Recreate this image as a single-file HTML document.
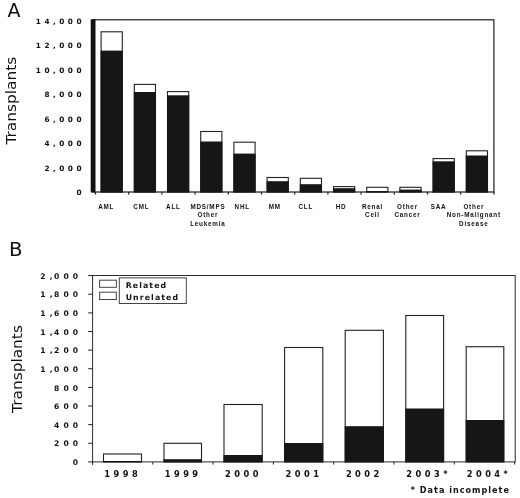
<!DOCTYPE html>
<html><head><meta charset="utf-8"><title>Transplants</title>
<style>
html,body{margin:0;padding:0;background:#fff;}
svg{display:block}
text{font-family:"DejaVu Sans","Liberation Sans",sans-serif;fill:#111}
.tk{font-weight:bold;font-size:7.3px;letter-spacing:3.5px;text-anchor:end}
.tb{font-weight:bold;font-size:7.6px;letter-spacing:4.1px;text-anchor:end}
.ca{font-family:"Liberation Sans",sans-serif;font-weight:bold;font-size:7.8px;letter-spacing:.99px;text-anchor:middle}
.cb{font-weight:bold;font-size:8.3px;letter-spacing:3.45px}
.lg{font-weight:bold;font-size:8.5px;letter-spacing:.7px}
.big{font-size:15px}
</style></head><body>
<svg width="520" height="498" viewBox="0 0 520 498">
<rect width="520" height="498" fill="#fff"/>

<text class="big" x="7.6" y="16.5" style="font-size:19px">A</text>
<text class="big" transform="translate(16.2,144.6) rotate(-90) scale(1,0.95)" style="font-size:15.4px">Transplants</text>
<rect x="93" y="19.8" width="400.9" height="172.2" fill="none" stroke="#1c1c1c" stroke-width="1.2"/>
<rect x="90.7" y="19.3" width="4.8" height="173.2" fill="#111"/>
<text class="tk" x="85" y="23.8">14,000</text>
<text class="tk" x="85" y="48.2">12,000</text>
<text class="tk" x="85" y="72.7">10,000</text>
<text class="tk" x="85" y="97.1">8,000</text>
<text class="tk" x="85" y="121.6">6,000</text>
<text class="tk" x="85" y="146.1">4,000</text>
<text class="tk" x="85" y="170.5">2,000</text>
<text class="tk" x="85" y="195.0">0</text>
<rect x="94.9" y="192" width="1.2" height="2.6" fill="#222"/>
<rect x="128.1" y="192" width="1.2" height="2.6" fill="#222"/>
<rect x="161.3" y="192" width="1.2" height="2.6" fill="#222"/>
<rect x="194.5" y="192" width="1.2" height="2.6" fill="#222"/>
<rect x="227.7" y="192" width="1.2" height="2.6" fill="#222"/>
<rect x="260.9" y="192" width="1.2" height="2.6" fill="#222"/>
<rect x="294.1" y="192" width="1.2" height="2.6" fill="#222"/>
<rect x="327.3" y="192" width="1.2" height="2.6" fill="#222"/>
<rect x="360.5" y="192" width="1.2" height="2.6" fill="#222"/>
<rect x="393.7" y="192" width="1.2" height="2.6" fill="#222"/>
<rect x="426.9" y="192" width="1.2" height="2.6" fill="#222"/>
<rect x="460.1" y="192" width="1.2" height="2.6" fill="#222"/>
<rect x="493.3" y="192" width="1.2" height="2.6" fill="#222"/>
<rect x="101.1" y="31.8" width="21.2" height="160.2" fill="#fff" stroke="#222" stroke-width="1.1"/>
<rect x="100.6" y="50.6" width="22.2" height="141.7" fill="#161616"/>
<rect x="134.3" y="84.4" width="21.2" height="107.6" fill="#fff" stroke="#222" stroke-width="1.1"/>
<rect x="133.8" y="92" width="22.2" height="100.3" fill="#161616"/>
<rect x="167.5" y="91.6" width="21.2" height="100.4" fill="#fff" stroke="#222" stroke-width="1.1"/>
<rect x="167.0" y="95.3" width="22.2" height="97.0" fill="#161616"/>
<rect x="200.7" y="131.5" width="21.2" height="60.5" fill="#fff" stroke="#222" stroke-width="1.1"/>
<rect x="200.2" y="141.5" width="22.2" height="50.8" fill="#161616"/>
<rect x="233.9" y="142.2" width="21.2" height="49.8" fill="#fff" stroke="#222" stroke-width="1.1"/>
<rect x="233.4" y="153.6" width="22.2" height="38.7" fill="#161616"/>
<rect x="267.1" y="177.5" width="21.2" height="14.5" fill="#fff" stroke="#222" stroke-width="1.1"/>
<rect x="266.6" y="181.2" width="22.2" height="11.1" fill="#161616"/>
<rect x="300.3" y="178.3" width="21.2" height="13.7" fill="#fff" stroke="#222" stroke-width="1.1"/>
<rect x="299.8" y="184.2" width="22.2" height="8.1" fill="#161616"/>
<rect x="333.5" y="186.6" width="21.2" height="5.4" fill="#fff" stroke="#222" stroke-width="1.1"/>
<rect x="333.0" y="188.2" width="22.2" height="4.1" fill="#161616"/>
<rect x="366.7" y="187.3" width="21.2" height="4.7" fill="#fff" stroke="#222" stroke-width="1.1"/>
<rect x="366.2" y="191" width="22.2" height="1.3" fill="#161616"/>
<rect x="399.9" y="187.3" width="21.2" height="4.7" fill="#fff" stroke="#222" stroke-width="1.1"/>
<rect x="399.4" y="189.6" width="22.2" height="2.7" fill="#161616"/>
<rect x="433.1" y="158.6" width="21.2" height="33.4" fill="#fff" stroke="#222" stroke-width="1.1"/>
<rect x="432.6" y="161.3" width="22.2" height="31.0" fill="#161616"/>
<rect x="466.3" y="150.8" width="21.2" height="41.2" fill="#fff" stroke="#222" stroke-width="1.1"/>
<rect x="465.8" y="155.5" width="22.2" height="36.8" fill="#161616"/>
<text class="ca" transform="translate(106.2,208.5) scale(.81,1)">AML</text>
<text class="ca" transform="translate(141.3,208.5) scale(.81,1)">CML</text>
<text class="ca" transform="translate(173.4,208.5) scale(.81,1)">ALL</text>
<text class="ca" transform="translate(207.9,208.5) scale(.81,1)">MDS/MPS</text>
<text class="ca" transform="translate(207.9,217.1) scale(.81,1)">Other</text>
<text class="ca" transform="translate(207.9,225.6) scale(.81,1)">Leukemia</text>
<text class="ca" transform="translate(242.3,208.5) scale(.81,1)">NHL</text>
<text class="ca" transform="translate(274.8,208.5) scale(.81,1)">MM</text>
<text class="ca" transform="translate(305.8,208.5) scale(.81,1)">CLL</text>
<text class="ca" transform="translate(341.0,208.5) scale(.81,1)">HD</text>
<text class="ca" transform="translate(372.5,208.5) scale(.81,1)">Renal</text>
<text class="ca" transform="translate(372.5,217.1) scale(.81,1)">Cell</text>
<text class="ca" transform="translate(407.5,208.5) scale(.81,1)">Other</text>
<text class="ca" transform="translate(407.5,217.1) scale(.81,1)">Cancer</text>
<text class="ca" transform="translate(438.5,208.5) scale(.81,1)">SAA</text>
<text class="ca" transform="translate(473.8,208.5) scale(.81,1)">Other</text>
<text class="ca" transform="translate(473.8,217.1) scale(.81,1)">Non-Malignant</text>
<text class="ca" transform="translate(473.8,225.6) scale(.81,1)">Disease</text>
<text class="big" x="8.9" y="255.9" style="font-size:19.6px">B</text>
<text class="big" transform="translate(22,413) rotate(-90) scale(1,0.97)" style="font-size:15.4px">Transplants</text>
<rect x="92.6" y="275.5" width="422.6" height="186.4" fill="none" stroke="#2a2a2a" stroke-width="1"/>
<rect x="92.1" y="461.5" width="1" height="3.2" fill="#222"/>
<text class="tb" x="82.2" y="278.7">2,<tspan dx="-2.6">000</tspan></text>
<rect x="88.2" y="275.1" width="4.4" height="1" fill="#222"/>
<text class="tb" x="82.2" y="297.3">1,<tspan dx="-2.6">800</tspan></text>
<rect x="88.2" y="293.7" width="4.4" height="1" fill="#222"/>
<text class="tb" x="82.2" y="316.0">1,<tspan dx="-2.6">600</tspan></text>
<rect x="88.2" y="312.4" width="4.4" height="1" fill="#222"/>
<text class="tb" x="82.2" y="334.6">1,<tspan dx="-2.6">400</tspan></text>
<rect x="88.2" y="331.0" width="4.4" height="1" fill="#222"/>
<text class="tb" x="82.2" y="353.2">1,<tspan dx="-2.6">200</tspan></text>
<rect x="88.2" y="349.6" width="4.4" height="1" fill="#222"/>
<text class="tb" x="82.2" y="371.9">1,<tspan dx="-2.6">000</tspan></text>
<rect x="88.2" y="368.2" width="4.4" height="1" fill="#222"/>
<text class="tb" x="82.2" y="390.5">800</text>
<rect x="88.2" y="386.9" width="4.4" height="1" fill="#222"/>
<text class="tb" x="82.2" y="409.1">600</text>
<rect x="88.2" y="405.5" width="4.4" height="1" fill="#222"/>
<text class="tb" x="82.2" y="427.7">400</text>
<rect x="88.2" y="424.1" width="4.4" height="1" fill="#222"/>
<text class="tb" x="82.2" y="446.4">200</text>
<rect x="88.2" y="442.8" width="4.4" height="1" fill="#222"/>
<text class="tb" x="82.2" y="465.0">0</text>
<rect x="88.2" y="461.4" width="4.4" height="1" fill="#222"/>
<rect x="103.5" y="454" width="38.0" height="7.9" fill="#fff" stroke="#222" stroke-width="1.1"/>
<rect x="103.0" y="461" width="39.0" height="1.2" fill="#161616"/>
<rect x="164" y="443.3" width="37.5" height="18.6" fill="#fff" stroke="#222" stroke-width="1.1"/>
<rect x="163.5" y="459.2" width="38.5" height="3.0" fill="#161616"/>
<rect x="224" y="404.5" width="38.2" height="57.4" fill="#fff" stroke="#222" stroke-width="1.1"/>
<rect x="223.5" y="455" width="39.2" height="7.2" fill="#161616"/>
<rect x="284.6" y="347.5" width="38.2" height="114.4" fill="#fff" stroke="#222" stroke-width="1.1"/>
<rect x="284.1" y="443" width="39.2" height="19.2" fill="#161616"/>
<rect x="345.2" y="330.3" width="38.2" height="131.6" fill="#fff" stroke="#222" stroke-width="1.1"/>
<rect x="344.7" y="426.2" width="39.2" height="36.0" fill="#161616"/>
<rect x="405.8" y="315.5" width="37.8" height="146.4" fill="#fff" stroke="#222" stroke-width="1.1"/>
<rect x="405.3" y="408.5" width="38.8" height="53.7" fill="#161616"/>
<rect x="466.2" y="346.7" width="37.6" height="115.2" fill="#fff" stroke="#222" stroke-width="1.1"/>
<rect x="465.7" y="420" width="38.6" height="42.2" fill="#161616"/>
<text class="cb" x="104.3" y="477">1998</text>
<text class="cb" x="164.7" y="477">1999</text>
<text class="cb" x="225.1" y="477">2000</text>
<text class="cb" x="285.5" y="477">2001</text>
<text class="cb" x="345.9" y="477">2002</text>
<text class="cb" x="406.3" y="477">2003*</text>
<text class="cb" x="466.7" y="477">2004*</text>
<rect x="92.0" y="461.9" width="1" height="2.6" fill="#222"/>
<rect x="152.3" y="461.9" width="1" height="2.6" fill="#222"/>
<rect x="212.6" y="461.9" width="1" height="2.6" fill="#222"/>
<rect x="272.9" y="461.9" width="1" height="2.6" fill="#222"/>
<rect x="333.2" y="461.9" width="1" height="2.6" fill="#222"/>
<rect x="393.5" y="461.9" width="1" height="2.6" fill="#222"/>
<rect x="453.8" y="461.9" width="1" height="2.6" fill="#222"/>
<rect x="514.1" y="461.9" width="1" height="2.6" fill="#222"/>
<rect x="119.3" y="277.9" width="67" height="25.6" fill="#fff" stroke="#444" stroke-width="1"/>
<rect x="99.6" y="280.2" width="16.8" height="7.1" fill="#fff" stroke="#444" stroke-width="1"/>
<rect x="99.6" y="292.2" width="16.8" height="7.3" fill="#fff" stroke="#444" stroke-width="1"/>
<text class="lg" x="125.7" y="287.6" style="font-size:7.8px;letter-spacing:1.1px">Related</text>
<text class="lg" x="125.7" y="299.6" style="font-size:7.8px;letter-spacing:1.1px">Unrelated</text>
<text class="lg" x="410.8" y="492.6" style="font-size:8.1px;letter-spacing:1px">* Data incomplete</text>
</svg></body></html>
